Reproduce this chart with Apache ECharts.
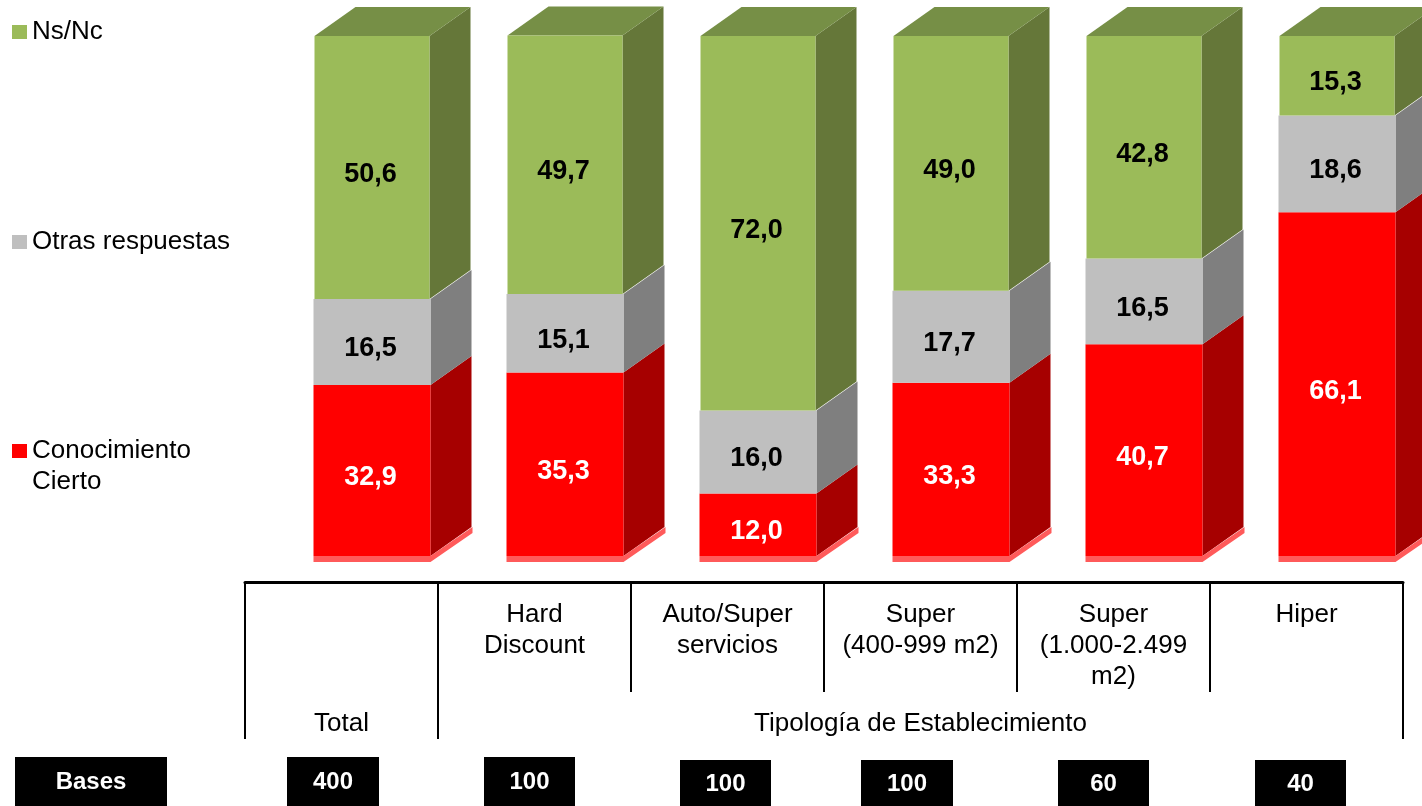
<!DOCTYPE html>
<html>
<head>
<meta charset="utf-8">
<title>Conocimiento por tipología de establecimiento</title>
<script src="https://cdn.jsdelivr.net/npm/echarts@6/dist/echarts.min.js"></script>
<style>
  html, body { margin: 0; padding: 0; background: #fff; }
  #main { width: 1422px; height: 806px; }
</style>
</head>
<body>
<div id="main"></div>
<script>
const categories = ["", "Hard\nDiscount", "Auto/Super\nservicios", "Super\n(400-999 m2)", "Super\n(1.000-2.499\nm2)", "Hiper"];
const conocimiento = [32.9, 35.3, 12.0, 33.3, 40.7, 66.1];
const otras = [16.5, 15.1, 16.0, 17.7, 16.5, 18.6];
const nsnc = [50.6, 49.7, 72.0, 49.0, 42.8, 15.3];
const bases = ["400", "100", "100", "100", "60", "40"];
const basesTitle = "Bases";
const groupLabels = ["Total", "Tipología de Establecimiento"];
const groupLabelPositions = [0.5, 3.5];
const groupRules = [0, 1, 6];

const FONT = '"Liberation Sans", Arial, sans-serif';

// pixel offsets of the fake 3d box, from the band centre
const FRONT_LEFT = -28;
const FRONT_WIDTH = 117;
const DEPTH = 41;
const RISE = 29;

// bottoms of each layer = sum of the layers under it
function stackOn(values, under) {
  return values.map((v, i) => [i, under ? under[i][1] + under[i][2] : 0, v]);
}
const redData = stackOn(conocimiento);
const grayData = stackOn(otras, redData);
const greenData = stackOn(nsnc, grayData);

function box(points, fill) {
  return { type: "polygon", shape: { points: points }, style: { fill: fill } };
}

function makeRender(colors) {
  return function (params, api) {
    const idx = api.value(0);
    const from = api.value(1);
    const val = api.value(2);
    const bottom = api.coord([idx, from]);
    const top = api.coord([idx, from + val]);
    const inset = colors.inset || 0;
    const x0 = bottom[0] + FRONT_LEFT + inset;
    const x1 = bottom[0] + FRONT_LEFT + FRONT_WIDTH - inset;
    const children = [];
    // side face
    children.push(box([
      [x1, top[1]], [x1 + DEPTH, top[1] - RISE],
      [x1 + DEPTH, bottom[1] - RISE], [x1, bottom[1]]
    ], colors.side));
    // top face only on the last layer
    if (colors.top) {
      children.push(box([
        [x0, top[1]], [x0 + DEPTH, top[1] - RISE],
        [x1 + DEPTH, top[1] - RISE], [x1, top[1]]
      ], colors.top));
    }
    children.push({
      type: "rect",
      shape: { x: x0, y: top[1], width: x1 - x0, height: bottom[1] - top[1] },
      style: { fill: colors.front }
    });
    // light bevel under the red block
    if (colors.bevel) {
      children.push(box([
        [x0, bottom[1]], [x1, bottom[1]], [x1 + DEPTH + 1, bottom[1] - RISE],
        [x1 + DEPTH + 1, bottom[1] - RISE + 6], [x1, bottom[1] + 6], [x0, bottom[1] + 6]
      ], colors.bevel));
    }
    children.push({
      type: "text",
      style: {
        x: bottom[0] + 29,
        y: (top[1] + bottom[1]) / 2 + 7,
        text: val.toFixed(1).replace(".", ","),
        fill: colors.label,
        font: "bold 27px " + FONT,
        align: "center",
        verticalAlign: "middle"
      }
    });
    return { type: "group", children: children };
  };
}

function layer(name, data, colors) {
  return {
    type: "custom",
    name: name,
    data: data,
    xAxisIndex: 0,
    yAxisIndex: 0,
    encode: { x: 0, y: 2 },
    itemStyle: { color: colors.front },
    renderItem: makeRender(colors),
    silent: true
  };
}

function legendAt(name, top) {
  return {
    left: 12,
    top: top,
    padding: 0,
    data: [name],
    icon: "rect",
    itemWidth: 15,
    itemHeight: 14,
    selectedMode: false,
    textStyle: { fontFamily: FONT, fontSize: 26, color: "#000" }
  };
}

// black boxes under the table, they don't sit on the band centres
const baseBoxes = [
  { x: 287, y: 757, w: 92, h: 49 },
  { x: 484, y: 757, w: 91, h: 49 },
  { x: 680, y: 760, w: 91, h: 46 },
  { x: 861, y: 760, w: 92, h: 46 },
  { x: 1058, y: 760, w: 91, h: 46 },
  { x: 1255, y: 760, w: 91, h: 46 }
];

function blackBox(b, text) {
  return {
    type: "group",
    children: [
      { type: "rect", shape: { x: b.x, y: b.y, width: b.w, height: b.h }, style: { fill: "#000" } },
      {
        type: "text",
        style: {
          x: b.x + b.w / 2,
          y: b.y + b.h / 2 + 1,
          text: text,
          fill: "#fff",
          font: "bold 24px " + FONT,
          align: "center",
          verticalAlign: "middle"
        }
      }
    ]
  };
}

const chart = echarts.init(document.getElementById("main"));
chart.setOption({
  animation: false,
  backgroundColor: "#fff",
  grid: { left: 245, width: 1158, top: 36, height: 520 },
  legend: [
    Object.assign(legendAt("Conocimiento Cierto", 438), { formatter: () => "Conocimiento" }),
    legendAt("Otras respuestas", 229),
    legendAt("Ns/Nc", 19)
  ],
  xAxis: [
    {
      type: "category",
      data: categories,
      position: "bottom",
      offset: 26,
      axisLine: { show: true, onZero: false, lineStyle: { color: "#000", width: 3 } },
      axisTick: { show: true, length: 110, lineStyle: { color: "#000", width: 2 } },
      axisLabel: {
        interval: 0,
        margin: 17,
        fontFamily: FONT,
        fontSize: 26,
        lineHeight: 31,
        color: "#000",
        verticalAlign: "top"
      }
    },
    {
      type: "value",
      min: 0,
      max: 6,
      position: "bottom",
      offset: 26,
      splitLine: { show: false },
      axisLine: { show: false, onZero: false },
      axisTick: { show: true, customValues: groupRules, length: 157, lineStyle: { color: "#000", width: 2 } },
      axisLabel: {
        customValues: groupLabelPositions,
        formatter: (v) => groupLabels[groupLabelPositions.indexOf(v)],
        margin: 126,
        fontFamily: FONT,
        fontSize: 26,
        lineHeight: 31,
        color: "#000",
        verticalAlign: "top"
      }
    }
  ],
  yAxis: { type: "value", min: 0, max: 100, show: false },
  series: [
    layer("Conocimiento Cierto", redData, { front: "#ff0000", side: "#a60000", bevel: "#ff5a5a", label: "#fff" }),
    layer("Otras respuestas", grayData, { front: "#bfbfbf", side: "#7f7f7f", label: "#000" }),
    layer("Ns/Nc", greenData, { front: "#9bbb59", side: "#657739", top: "#768f46", label: "#000", inset: 1 })
  ],
  graphic: [
    blackBox({ x: 15, y: 757, w: 152, h: 49 }, basesTitle),
    // second line of the red legend entry
    {
      type: "text",
      style: { x: 32, y: 482, text: "Cierto", fill: "#000", font: "26px " + FONT, verticalAlign: "middle" }
    }
  ].concat(baseBoxes.map((b, i) => blackBox(b, bases[i])))
});
</script>
</body>
</html>
